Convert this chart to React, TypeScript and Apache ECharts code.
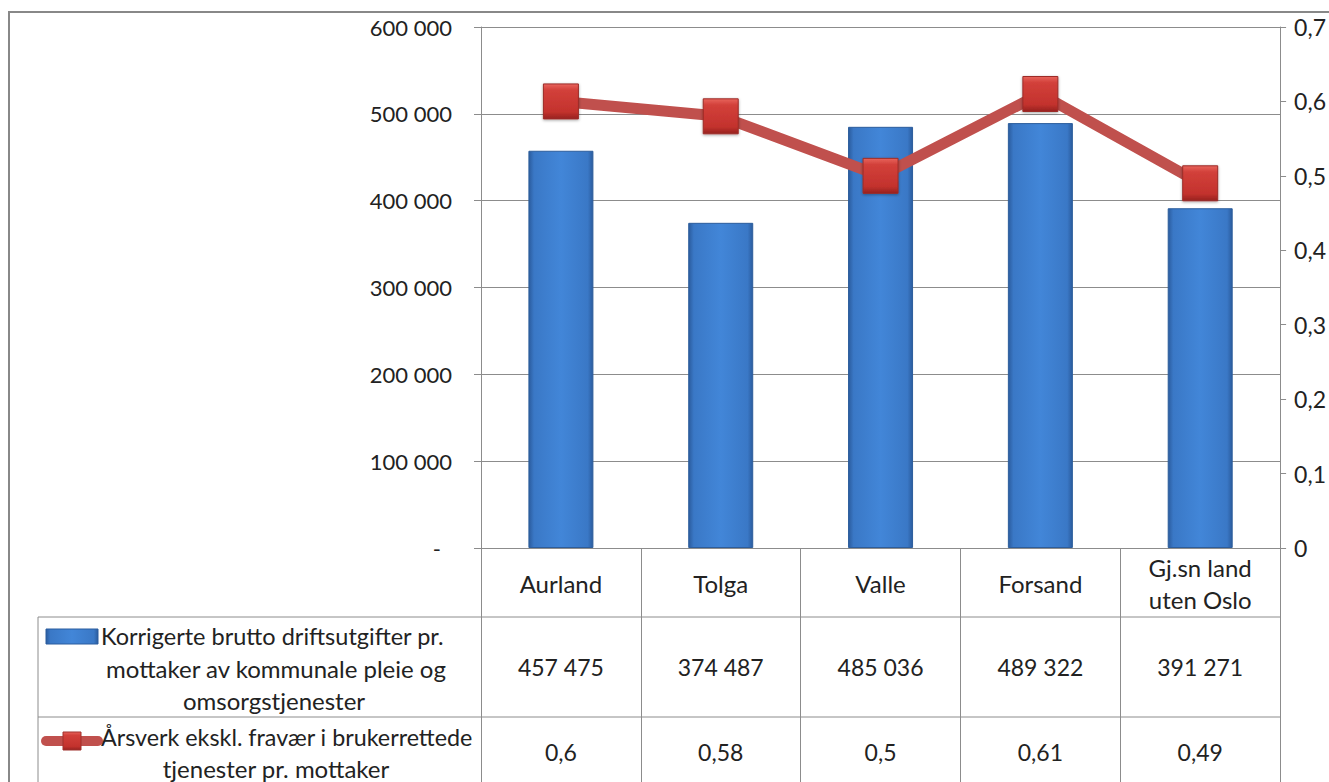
import React, { useEffect, useRef } from "react";
import * as echarts from "echarts";

const categories = ["Aurland", "Tolga", "Valle", "Forsand", "Gj.sn land\nuten Oslo"];
const costValues = [457475, 374487, 485036, 489322, 391271];
const fteValues = [0.6, 0.58, 0.5, 0.61, 0.49];
const costName = "Korrigerte brutto driftsutgifter pr. mottaker av kommunale pleie og omsorgstjenester";
const fteName = "Årsverk ekskl. fravær i brukerrettede tjenester pr. mottaker";
const costLegendLines = ["Korrigerte brutto driftsutgifter pr.", "mottaker av kommunale pleie og", "omsorgstjenester"];
const fteLegendLines = ["Årsverk ekskl. fravær i brukerrettede", "tjenester pr. mottaker"];
const leftAxis = { min: 0, max: 600000, interval: 100000 };
const rightAxis = { min: 0, max: 0.7, interval: 0.1 };

const FONT = "Lato, 'Open Sans', sans-serif";
const TXT = "#222222";
const GRID = "#8c8c8c";

const fmtThousands = (v: number) => String(v).replace(/\B(?=(\d{3})+(?!\d))/g, " ");
const fmtDec = (v: number) => String(v).replace(".", ",");

export default function App() {
  const ref = useRef<HTMLDivElement>(null);
  useEffect(() => {
    if (!ref.current) return;
    const chart = echarts.init(ref.current, null, { renderer: "svg" });
    const barGrad = new echarts.graphic.LinearGradient(1, 0, 0, 0, [
      { offset: 0, color: "#2b5c9e" },
      { offset: 0.08, color: "#3a78c6" },
      { offset: 0.5, color: "#4286d8" },
      { offset: 0.92, color: "#3a78c6" },
      { offset: 1, color: "#2b5c9e" },
    ]);
    const markerGrad = new echarts.graphic.LinearGradient(0, 0, 0, 1, [
      { offset: 0, color: "#e8645c" },
      { offset: 0.18, color: "#d2403a" },
      { offset: 0.8, color: "#c3322d" },
      { offset: 1, color: "#962220" },
    ]);
    const textStyle = (extra: any) => ({ fill: TXT, fontFamily: FONT, fontSize: 24, ...extra });
    const graphic: any[] = [
      { type: "rect", shape: { x: 9, y: 12, width: 1360, height: 820 }, style: { fill: "none", stroke: "#888888", lineWidth: 2 }, silent: true },
      { type: "line", shape: { x1: 38, y1: 617, x2: 1281, y2: 617 }, style: { stroke: GRID, lineWidth: 1 } },
      { type: "line", shape: { x1: 38, y1: 717, x2: 1281, y2: 717 }, style: { stroke: GRID, lineWidth: 1 } },
      { type: "line", shape: { x1: 38, y1: 617, x2: 38, y2: 800 }, style: { stroke: GRID, lineWidth: 1 } },
      { type: "rect", shape: { x: 46, y: 629, width: 52, height: 15 }, style: { fill: barGrad, stroke: "#2b5c9e", lineWidth: 1 } },
      { type: "text", x: 101, y: 636, style: textStyle({ text: costLegendLines[0], fontSize: 23.5, textAlign: "left", textVerticalAlign: "middle" }) },
      { type: "text", x: 276, y: 668, style: textStyle({ text: costLegendLines[1], textAlign: "center", textVerticalAlign: "middle" }) },
      { type: "text", x: 274, y: 700, style: textStyle({ text: costLegendLines[2], textAlign: "center", textVerticalAlign: "middle" }) },
      { type: "line", shape: { x1: 46, y1: 741, x2: 98, y2: 741 }, style: { stroke: "#c0504d", lineWidth: 10, lineCap: "round" } },
      { type: "rect", shape: { x: 63, y: 732, width: 18, height: 18 }, style: { fill: markerGrad, stroke: "#a0302c", lineWidth: 1 } },
      { type: "text", x: 101, y: 737, style: textStyle({ text: fteLegendLines[0], fontSize: 23.3, textAlign: "left", textVerticalAlign: "middle" }) },
      { type: "text", x: 276, y: 768, style: textStyle({ text: fteLegendLines[1], textAlign: "center", textVerticalAlign: "middle" }) },
    ];
    const axisLabelBase = { fontFamily: FONT, fontSize: 22, color: TXT };
    const tableLabelBase = { fontFamily: FONT, fontSize: 23, color: TXT };
    chart.setOption({
      animation: false,
      backgroundColor: "#ffffff",
      grid: { left: 481, right: 48, top: 27, bottom: 234, containLabel: false },
      xAxis: [
        {
          type: "category",
          data: categories,
          position: "bottom",
          axisLine: { show: true, lineStyle: { color: GRID, width: 1 } },
          axisTick: { show: true, length: 260, lineStyle: { color: GRID, width: 1 } },
          axisLabel: { ...tableLabelBase, fontSize: 24, margin: 35, verticalAlign: "middle", lineHeight: 32, interval: 0 },
        },
        {
          type: "category",
          data: costValues.map(fmtThousands),
          position: "bottom",
          offset: 119,
          axisLine: { show: false },
          axisTick: { show: false },
          axisLabel: { ...tableLabelBase, margin: 0, verticalAlign: "middle", interval: 0 },
        },
        {
          type: "category",
          data: fteValues.map(fmtDec),
          position: "bottom",
          offset: 204,
          axisLine: { show: false },
          axisTick: { show: false },
          axisLabel: { ...tableLabelBase, margin: 0, verticalAlign: "middle", interval: 0 },
        },
      ],
      yAxis: [
        {
          type: "value",
          ...leftAxis,
          axisLine: { show: true, lineStyle: { color: GRID, width: 1 } },
          axisTick: { show: true, inside: false, length: 7, lineStyle: { color: GRID } },
          splitLine: { show: true, lineStyle: { color: GRID, width: 1 } },
          axisLabel: {
            ...axisLabelBase,
            margin: 29,
            formatter: (v: number) => (v === 0 ? "-\u2002" : fmtThousands(v)),
          },
        },
        {
          type: "value",
          ...rightAxis,
          position: "right",
          axisLine: { show: true, lineStyle: { color: GRID, width: 1 } },
          axisTick: { show: true, inside: false, length: 6, lineStyle: { color: GRID } },
          splitLine: { show: false },
          axisLabel: {
            ...axisLabelBase,
            fontSize: 23,
            margin: 14,
            formatter: (v: number) => (v === 0 ? "0" : v.toFixed(1).replace(".", ",")),
          },
        },
      ],
      series: [
        {
          name: costName,
          type: "bar",
          xAxisIndex: 0,
          yAxisIndex: 0,
          data: costValues,
          barWidth: 65,
          itemStyle: { color: barGrad, borderColor: "#2c5d9c", borderWidth: 1 },
          emphasis: { disabled: true },
        },
        {
          name: fteName,
          type: "line",
          xAxisIndex: 0,
          yAxisIndex: 1,
          data: fteValues,
          symbol: "rect",
          symbolSize: 35,
          lineStyle: { color: "#c0504d", width: 11 },
          itemStyle: {
            color: markerGrad,
            borderColor: "#9c2c28",
            borderWidth: 1,
            shadowBlur: 3,
            shadowColor: "rgba(0,0,0,0.35)",
            shadowOffsetY: 1,
          },
          emphasis: { disabled: true },
          z: 5,
        },
      ],
      graphic,
    });
    return () => chart.dispose();
  }, []);
  return (
    <div
      ref={ref}
      style={{ position: "absolute", left: 0, top: 0, width: 1329, height: 782, background: "#fff" }}
    />
  );
}
